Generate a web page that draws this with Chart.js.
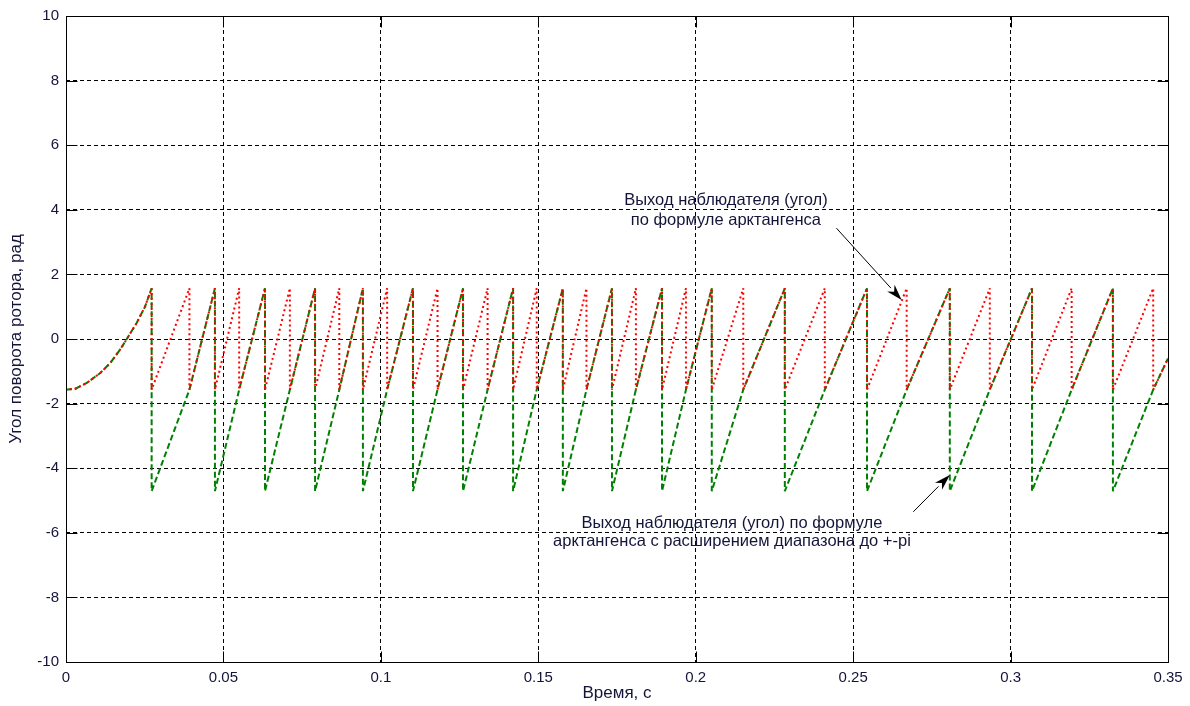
<!DOCTYPE html>
<html>
<head>
<meta charset="utf-8">
<script src="https://cdn.jsdelivr.net/npm/chart.js@4.4.1/dist/chart.umd.min.js"></script>
<style>
  html,body{margin:0;padding:0;background:#fff}
  canvas{display:block}
</style>
</head>
<body>
<canvas id="chart" width="1190" height="706"></canvas>
<script>
/* Угол ротора: выход наблюдателя, atan (красный) и atan с расширением до ±pi (зелёный) */

const X_TICKS  = [0, 0.05, 0.1, 0.15, 0.2, 0.25, 0.3, 0.35];
const X_LABELS = ["0", "0.05", "0.1", "0.15", "0.2", "0.25", "0.3", "0.35"];
const Y_TICKS  = [-10, -8, -6, -4, -2, 0, 2, 4, 6, 8, 10];

// [время, угол] — с расширением диапазона
const GREEN_PTS = [
  [0,-1.57],[0.003,-1.54],[0.0066,-1.36],[0.0108,-1.06],[0.014,-0.75],[0.0171,-0.34],
  [0.0193,0],[0.0224,0.49],[0.0251,1.0],[0.0272,1.57],
  [0.0272,-4.71],[0.0392,-1.57],[0.0473,1.57],
  [0.0473,-4.71],[0.0550,-1.57],[0.0632,1.57],
  [0.0632,-4.71],[0.0711,-1.57],[0.0791,1.57],
  [0.0791,-4.71],[0.0868,-1.57],[0.0943,1.57],
  [0.0943,-4.71],[0.1020,-1.57],[0.1102,1.57],
  [0.1102,-4.71],[0.1180,-1.57],[0.1261,1.57],
  [0.1261,-4.71],[0.1339,-1.57],[0.1420,1.57],
  [0.1420,-4.71],[0.1495,-1.57],[0.1578,1.57],
  [0.1578,-4.71],[0.1653,-1.57],[0.1734,1.57],
  [0.1734,-4.71],[0.1810,-1.57],[0.1893,1.57],
  [0.1893,-4.71],[0.1969,-1.57],[0.2051,1.57],
  [0.2051,-4.71],[0.2151,-1.57],[0.2283,1.57],
  [0.2283,-4.71],[0.2410,-1.57],[0.2544,1.57],
  [0.2544,-4.71],[0.2670,-1.57],[0.2807,1.57],
  [0.2807,-4.71],[0.2934,-1.57],[0.3068,1.57],
  [0.3068,-4.71],[0.3194,-1.57],[0.3325,1.57],
  [0.3325,-4.71],[0.3453,-1.57],[0.35,-0.6]
];

// [время, угол] — арктангенс
const RED_PTS = [
  [0,1.57],[0,-1.57],[0.003,-1.54],[0.0066,-1.36],[0.0108,-1.06],[0.014,-0.75],[0.0171,-0.34],
  [0.0193,0],[0.0224,0.49],[0.0251,1.0],[0.0272,1.57],
  [0.0272,-1.57],[0.0392,1.57],[0.0392,-1.57],[0.0473,1.57],
  [0.0473,-1.57],[0.0550,1.57],[0.0550,-1.57],[0.0632,1.57],
  [0.0632,-1.57],[0.0711,1.57],[0.0711,-1.57],[0.0791,1.57],
  [0.0791,-1.57],[0.0868,1.57],[0.0868,-1.57],[0.0943,1.57],
  [0.0943,-1.57],[0.1020,1.57],[0.1020,-1.57],[0.1102,1.57],
  [0.1102,-1.57],[0.1180,1.57],[0.1180,-1.57],[0.1261,1.57],
  [0.1261,-1.57],[0.1339,1.57],[0.1339,-1.57],[0.1420,1.57],
  [0.1420,-1.57],[0.1495,1.57],[0.1495,-1.57],[0.1578,1.57],
  [0.1578,-1.57],[0.1653,1.57],[0.1653,-1.57],[0.1734,1.57],
  [0.1734,-1.57],[0.1810,1.57],[0.1810,-1.57],[0.1893,1.57],
  [0.1893,-1.57],[0.1969,1.57],[0.1969,-1.57],[0.2051,1.57],
  [0.2051,-1.57],[0.2151,1.57],[0.2151,-1.57],[0.2283,1.57],
  [0.2283,-1.57],[0.2410,1.57],[0.2410,-1.57],[0.2544,1.57],
  [0.2544,-1.57],[0.2670,1.57],[0.2670,-1.57],[0.2807,1.57],
  [0.2807,-1.57],[0.2934,1.57],[0.2934,-1.57],[0.3068,1.57],
  [0.3068,-1.57],[0.3194,1.57],[0.3194,-1.57],[0.3325,1.57],
  [0.3325,-1.57],[0.3453,1.57],[0.3453,-1.57],[0.35,-0.6]
];

// подписи со стрелками, в координатах данных
const NOTES = [
  { lines:["Выход наблюдателя (угол)", "по формуле арктангенса"], x:0.2096, y:[4.30, 3.68],
    from:[0.2447, 3.43], to:[0.2654, 1.21] },
  { lines:["Выход наблюдателя (угол) по формуле", "арктангенса с расширением диапазона до +-pi"], x:0.2115, y:[-5.70, -6.28],
    from:[0.2691, -5.35], to:[0.2807, -4.21] }
];

const FONT = "'Liberation Sans', Arial, sans-serif";
const TXT = "#14143a";
const TICK = 11;

const matlabAxes = {
  id:"matlabAxes",
  afterDraw(chart){
    const { ctx, chartArea:a, scales } = chart;
    const px = v => Math.round(v) + 0.5;
    const L = px(a.left), R = px(a.right), T = px(a.top), B = px(a.bottom);
    ctx.save();
    ctx.setLineDash([]);
    ctx.strokeStyle = "#000"; ctx.lineWidth = 1;
    ctx.strokeRect(L, T, R-L, B-T);
    ctx.beginPath();
    X_TICKS.forEach(v=>{
      const x = px(scales.x.getPixelForValue(v));
      ctx.moveTo(x, B); ctx.lineTo(x, B-TICK);
      ctx.moveTo(x, T); ctx.lineTo(x, T+TICK);
    });
    Y_TICKS.forEach(v=>{
      const y = px(scales.y.getPixelForValue(v));
      ctx.moveTo(L, y); ctx.lineTo(L+TICK, y);
      ctx.moveTo(R, y); ctx.lineTo(R-TICK, y);
    });
    ctx.stroke();

    // аннотации
    ctx.font = "16.5px " + FONT;
    ctx.fillStyle = TXT; ctx.textAlign = "center"; ctx.textBaseline = "middle";
    NOTES.forEach(n=>{
      const cx = scales.x.getPixelForValue(n.x);
      n.lines.forEach((s,i)=> ctx.fillText(s, cx, scales.y.getPixelForValue(n.y[i])));
      const x0 = scales.x.getPixelForValue(n.from[0]), y0 = scales.y.getPixelForValue(n.from[1]);
      const x1 = scales.x.getPixelForValue(n.to[0]),   y1 = scales.y.getPixelForValue(n.to[1]);
      const ang = Math.atan2(y1-y0, x1-x0), hl = 16, hw = 5;
      const bx = x1 - hl*Math.cos(ang), by = y1 - hl*Math.sin(ang);
      ctx.strokeStyle = "#000"; ctx.lineWidth = 1;
      ctx.beginPath(); ctx.moveTo(x0, y0); ctx.lineTo(bx, by); ctx.stroke();
      ctx.fillStyle = "#000";
      ctx.beginPath();
      ctx.moveTo(x1, y1);
      ctx.lineTo(bx + hw*Math.sin(ang), by - hw*Math.cos(ang));
      ctx.lineTo(x1 - 0.7*hl*Math.cos(ang), y1 - 0.7*hl*Math.sin(ang));
      ctx.lineTo(bx - hw*Math.sin(ang), by + hw*Math.cos(ang));
      ctx.closePath(); ctx.fill();
      ctx.fillStyle = TXT;
    });
    ctx.restore();
  }
};

const toXY = pts => pts.map(p=>({ x:p[0], y:p[1] }));

new Chart(document.getElementById("chart"), {
  type:"line",
  data:{ datasets:[
    { label:"atan", data:toXY(RED_PTS), borderColor:"#ff0000", borderWidth:2, borderDash:[2,3],
      borderJoinStyle:"bevel", pointRadius:0, tension:0, fill:false },
    { label:"atan ±pi", data:toXY(GREEN_PTS), borderColor:"#008000", borderWidth:2, borderDash:[6,3],
      borderJoinStyle:"bevel", pointRadius:0, tension:0, fill:false }
  ]},
  options:{
    responsive:false, animation:false, parsing:true,
    layout:{ padding:{ left:6, right:22, top:16, bottom:2 } },
    plugins:{ legend:{ display:false }, tooltip:{ enabled:false } },
    scales:{
      x:{ type:"linear", min:0, max:0.35,
        afterBuildTicks: s => { s.ticks = X_TICKS.map(v=>({ value:v })); },
        afterFit: s => { s.height = 42; },
        grid:{ color:"#000", lineWidth:1, drawTicks:false },
        border:{ display:false, dash:[4,3] },
        ticks:{ padding:7, color:TXT, font:{ family:FONT, size:15 }, maxRotation:0, autoSkip:false,
          callback:(v,i)=>X_LABELS[X_TICKS.indexOf(v)] ?? "" },
        title:{ display:true, text:"Время, с", color:TXT, font:{ family:FONT, size:17 }, padding:0 }
      },
      y:{ type:"linear", min:-10, max:10,
        afterBuildTicks: s => { s.ticks = Y_TICKS.map(v=>({ value:v })); },
        afterFit: s => { s.width = 60; },
        grid:{ color:"#000", lineWidth:1, drawTicks:false },
        border:{ display:false, dash:[4,3] },
        ticks:{ padding:7, color:TXT, font:{ family:FONT, size:15 }, autoSkip:false },
        title:{ display:true, text:"Угол поворота ротора, рад", color:TXT, font:{ family:FONT, size:17 }, padding:0 }
      }
    }
  },
  plugins:[matlabAxes]
});
</script>
</body>
</html>
